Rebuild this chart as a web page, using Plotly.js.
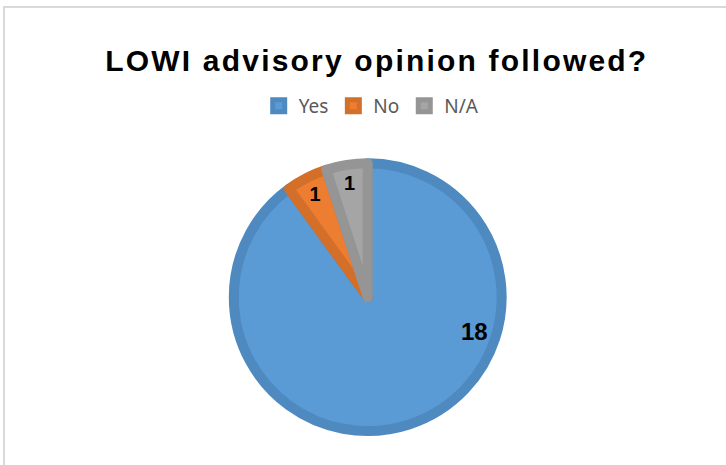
<!DOCTYPE html>
<html>
<head>
<meta charset="utf-8">
<script src="https://cdn.plot.ly/plotly-3.0.1.min.js"></script>
<style>
html,body{margin:0;padding:0;background:#fff;}
#wrap{position:relative;width:726px;height:465px;overflow:hidden;}
#frame{position:absolute;left:3px;top:6px;width:800px;height:600px;border-left:2px solid #d9d9d9;border-top:2px solid #d9d9d9;pointer-events:none;}
#chart{position:absolute;left:0;top:0;width:726px;height:465px;}
#chart .gtitle{letter-spacing:2.2px;}
</style>
</head>
<body>
<div id="wrap"><div id="chart"></div><div id="frame"></div></div>
<script>
const categories = ["Yes", "No", "N/A"];
const values = [18, 1, 1];
const fillColors = ["#5B9BD5", "#ED7D31", "#A5A5A5"];
const borderColors = ["#4E89C0", "#D46F2A", "#959595"];

// The large slice's label is placed like the original (right side); small slices use Plotly's inside text.
const sliceText = values.map((v, i) => i === 0 ? "" : String(v));

const trace = {
  type: "pie",
  labels: categories,
  values: values,
  sort: false,
  direction: "clockwise",
  rotation: 0,
  marker: {colors: fillColors, line: {color: borderColors, width: 10}},
  text: sliceText,
  textinfo: "text",
  textposition: "inside",
  insidetextorientation: "horizontal",
  textfont: {family: "Liberation Sans, Arial, sans-serif", size: 20, color: "#000", weight: "bold"},
  domain: {x: [0.322, 0.691], y: [0.073, 0.649]},
  hoverinfo: "label+value"
};

const layout = {
  width: 726, height: 465,
  margin: {l: 0, r: 0, t: 0, b: 0},
  paper_bgcolor: "#fff",
  title: {text: "<b>LOWI advisory opinion followed?</b>", x: 0.519, xanchor: "center", y: 0.87, yanchor: "middle",
    font: {family: "Liberation Sans, Arial, sans-serif", size: 30, color: "#000"}},
  showlegend: true,
  legend: {orientation: "h", x: 0.512, xanchor: "center", y: 0.772, yanchor: "middle",
    font: {family: "Noto Sans, sans-serif", size: 19, color: "#595959"}, itemwidth: 30, traceorder: "normal"},
  annotations: [{
    text: "<b>" + values[0] + "</b>", xref: "paper", yref: "paper", x: 0.654, y: 0.288,
    xanchor: "center", yanchor: "middle", showarrow: false,
    font: {family: "Liberation Sans, Arial, sans-serif", size: 24, color: "#000"}
  }]
};

Plotly.newPlot("chart", [trace], layout, {displayModeBar: false, staticPlot: true});
</script>
</body>
</html>
